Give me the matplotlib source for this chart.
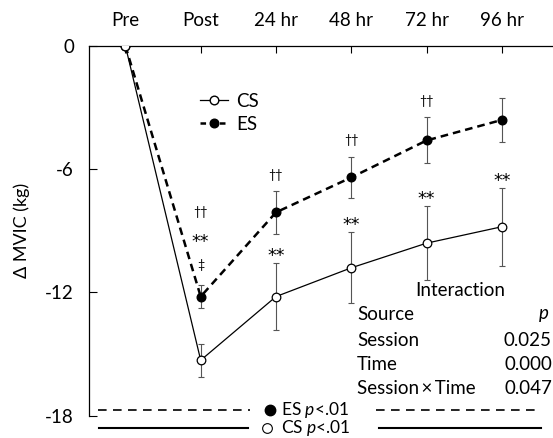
import matplotlib
matplotlib.use("Agg")
import matplotlib.pyplot as plt
from matplotlib.lines import Line2D
import numpy as np

plt.rcParams['font.family'] = ['Lato', 'DejaVu Sans']
plt.rcParams['axes.unicode_minus'] = False
plt.rcParams['lines.scale_dashes'] = False
plt.rcParams['mathtext.fontset'] = 'custom'
plt.rcParams['mathtext.it'] = 'Lato:italic'
plt.rcParams['mathtext.rm'] = 'Lato'

# ---- data ----
time_labels = ["Pre", "Post", "24 hr", "48 hr", "72 hr", "96 hr"]
cs_mean = [0.0, -15.3, -12.2, -10.8, -9.6, -8.8]
cs_err = [0.0, 0.8, 1.65, 1.73, 1.8, 1.9]
es_mean = [0.0, -12.2, -8.1, -6.4, -4.6, -3.6]
es_err = [0.0, 0.54, 1.03, 1.0, 1.12, 1.05]
yticks = [0, -6, -12, -18]

# significance marks
cs_marks = [(2, "**"), (3, "**"), (4, "**"), (5, "**")]
es_marks = [(2, "††"), (3, "††"), (4, "††")]
es_post_marks = [("‡", 15), ("**", 31), ("††", 53)]

table_rows = [("Session", "0.025"), ("Time", "0.000"), ("Session\u2009×\u2009Time", "0.047")]

x = np.arange(len(time_labels))

fig = plt.figure(figsize=(5.53, 4.38), dpi=100)
W, H = 553, 438
ax = fig.add_axes([89.3 / W, 1 - 415.7 / H, 1 - 89.3 / W, (415.7 - 46) / H])

err_kw = dict(ecolor='#555555', elinewidth=0.8, capsize=2.2, capthick=0.8)
ax.errorbar(x[1:], cs_mean[1:], yerr=cs_err[1:], fmt='none', zorder=2, **err_kw)
ax.errorbar(x[1:], es_mean[1:], yerr=es_err[1:], fmt='none', zorder=2, **err_kw)

ax.plot(x, cs_mean, color='black', lw=0.9, marker='o', ms=6.2, mfc='white',
        mec='black', mew=0.9, zorder=4)
ax.plot(x, es_mean, color='black', lw=1.8, dashes=(5.5, 3.6), marker='o', ms=6.2,
        mfc='black', mec='black', zorder=3)

ax.set_xlim(-0.48, 5.68)
ax.set_ylim(-18, 0)
ax.set_yticks(yticks)
ax.set_yticklabels([str(v) for v in yticks])
ax.xaxis.tick_top()
ax.set_xticks(x)
ax.set_xticklabels(time_labels)
ax.tick_params(axis='x', direction='in', length=5, width=0.8, pad=12, labelsize=13.5)
ax.tick_params(axis='y', direction='in', length=5.8, width=0.8, pad=11, labelsize=13.5)
for s in ['right', 'bottom']:
    ax.spines[s].set_visible(False)
for s in ['top', 'left']:
    ax.spines[s].set_linewidth(0.9)
ax.set_ylabel("Δ MVIC (kg)", fontsize=13)
ax.yaxis.set_label_coords(-0.128, 0.5)

ast_kw = dict(ha='center', va='center', fontsize=12.5, family='DejaVu Sans')
# significance annotations
for i, t in cs_marks:
    ax.annotate(t, (x[i], cs_mean[i] + cs_err[i]), xytext=(0, 5), textcoords='offset points',
                **ast_kw)
for i, t in es_marks:
    ax.annotate(t, (x[i], es_mean[i] + es_err[i]), xytext=(0, 12), textcoords='offset points',
                ha='center', va='center', fontsize=9)
for t, off in es_post_marks:
    if t == "**":
        ax.annotate(t, (x[1], es_mean[1] + es_err[1]), xytext=(0, off),
                    textcoords='offset points', **ast_kw)
    else:
        ax.annotate(t, (x[1], es_mean[1] + es_err[1]), xytext=(0, off),
                    textcoords='offset points', ha='center', va='center', fontsize=9)

# legend
h_cs = Line2D([], [], color='black', lw=0.9, marker='o', ms=6.2, mfc='white', mec='black')
h_es = Line2D([], [], color='black', lw=1.8, dashes=(4, 3), marker='o', ms=6.2, mfc='black')
fig.legend([h_cs, h_es], ["CS", "ES"], loc='upper left', bbox_to_anchor=(200 / W, 1 - 93 / H),
           frameon=False, fontsize=13.5, handlelength=1.5, handletextpad=0.45,
           labelspacing=0.3, borderpad=0, borderaxespad=0)

# statistics table
fs_t = 13.5
fig.text(460 / W, 1 - 290.7 / H, "Interaction", ha='center', va='center', fontsize=fs_t)
fig.text(357 / W, 1 - 315 / H, "Source", ha='left', va='center', fontsize=fs_t)
fig.text(549 / W, 1 - 315 / H, "$\\it{p}$", ha='right', va='center', fontsize=fs_t)
for k, (src, pv) in enumerate(table_rows):
    yy = 1 - (340 + k * 24.3) / H
    fig.text(357 / W, yy, src, ha='left', va='center', fontsize=fs_t)
    fig.text(552 / W, yy, pv, ha='right', va='center', fontsize=fs_t)

# bottom significance lines
y_es, y_cs = 1 - 409.5 / H, 1 - 428 / H
for x0, x1 in [(98, 250), (376, 539)]:
    fig.add_artist(Line2D([x0 / W, x1 / W], [y_es, y_es], color='black', lw=1.2,
                          dashes=(6.2, 4.6), transform=fig.transFigure))
for x0, x1 in [(99, 248), (379, 541)]:
    fig.add_artist(Line2D([x0 / W, x1 / W], [y_cs, y_cs], color='black', lw=1.5,
                          transform=fig.transFigure))
fig.add_artist(Line2D([269.5 / W], [y_es], marker='o', ms=7.5, mfc='black', mec='black',
                      ls='none', transform=fig.transFigure))
fig.add_artist(Line2D([267 / W], [y_cs], marker='o', ms=7, mfc='white', mec='black',
                      mew=0.8, ls='none', transform=fig.transFigure))
fig.text(281 / W, y_es, "ES $\\it{p}$<.01", ha='left', va='center', fontsize=12.5)
fig.text(281 / W, y_cs, "CS $\\it{p}$<.01", ha='left', va='center', fontsize=12.5)

fig.savefig("out.png", dpi=100)
